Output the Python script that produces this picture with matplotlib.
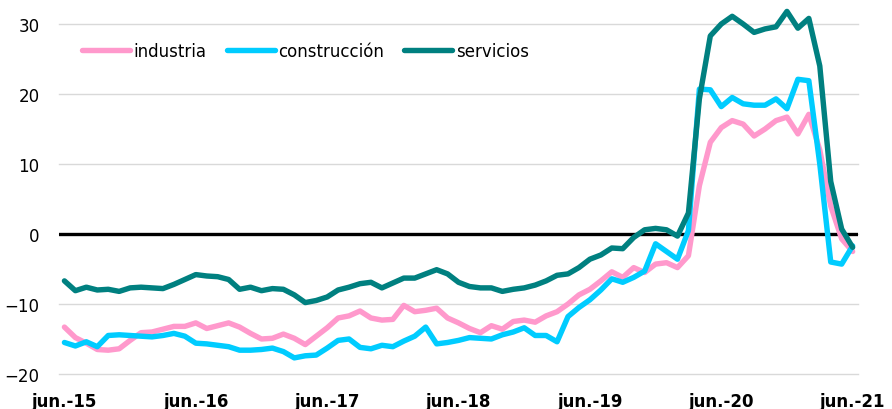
import matplotlib
matplotlib.use("Agg")
import matplotlib.pyplot as plt
import numpy as np

# monthly series, jun-15 .. jun-21
industria = [-13.3, -14.8, -15.6, -16.5, -16.6, -16.4, -15.2, -14.1, -14.0, -13.6, -13.2, -13.2,
             -12.7, -13.5, -13.1, -12.7, -13.3, -14.2, -15.0, -14.9, -14.3, -14.9, -15.8, -14.6,
             -13.4, -12.0, -11.7, -11.0, -12.0, -12.3, -12.2, -10.2, -11.1, -10.9, -10.6, -12.0,
             -12.7, -13.5, -14.1, -13.1, -13.6, -12.5, -12.3, -12.6, -11.7, -11.1, -10.0, -8.7,
             -7.9, -6.7, -5.4, -6.2, -4.8, -5.5, -4.3, -4.1, -4.8, -3.1, 6.9, 13.1,
             15.2, 16.2, 15.7, 14.0, 15.0, 16.2, 16.7, 14.3, 17.1, 12.0, 4.0, -0.7,
             -2.5]
construccion = [-15.5, -16.0, -15.4, -16.1, -14.5, -14.4, -14.5, -14.6, -14.7, -14.5, -14.2, -14.6,
                -15.6, -15.7, -15.9, -16.1, -16.6, -16.6, -16.5, -16.3, -16.8, -17.7, -17.4, -17.3,
                -16.3, -15.2, -15.0, -16.2, -16.4, -15.9, -16.1, -15.3, -14.6, -13.3, -15.7, -15.5,
                -15.2, -14.8, -14.9, -15.0, -14.4, -14.0, -13.4, -14.5, -14.5, -15.4, -11.8, -10.5,
                -9.4, -8.0, -6.4, -6.9, -6.2, -5.3, -1.4, -2.5, -3.6, 0.5, 20.7, 20.6,
                18.2, 19.5, 18.6, 18.4, 18.4, 19.3, 17.9, 22.1, 21.9, 10.0, -4.0, -4.3,
                -1.7]
servicios = [-6.7, -8.1, -7.6, -8.0, -7.9, -8.2, -7.7, -7.6, -7.7, -7.8, -7.2, -6.5,
             -5.8, -6.0, -6.1, -6.5, -7.9, -7.6, -8.1, -7.8, -7.9, -8.7, -9.8, -9.5,
             -9.0, -8.0, -7.6, -7.1, -6.9, -7.7, -7.0, -6.3, -6.3, -5.7, -5.1, -5.7,
             -6.9, -7.5, -7.7, -7.7, -8.2, -7.9, -7.7, -7.3, -6.7, -5.9, -5.7, -4.8,
             -3.6, -3.0, -2.0, -2.1, -0.5, 0.6, 0.8, 0.6, -0.3, 3.0, 19.3, 28.3,
             30.0, 31.1, 30.0, 28.8, 29.3, 29.6, 31.8, 29.4, 30.8, 24.0, 7.5, 0.7,
             -1.9]
tick_labels = ['jun.-15', 'jun.-16', 'jun.-17', 'jun.-18', 'jun.-19', 'jun.-20', 'jun.-21']

months = np.arange(len(servicios))

fig = plt.figure(figsize=(8.92, 4.10), dpi=100)
ax = fig.add_axes([0.0661, 0.0854, 0.8959, 0.8536])

line_kw = dict(lw=3.9, solid_capstyle='round', solid_joinstyle='round', clip_on=False)
ax.plot(months, industria, color='#FF99CC', label='industria', zorder=3, **line_kw)
ax.plot(months, construccion, color='#00CCFF', label='construcción', zorder=4, **line_kw)
ax.plot(months, servicios, color='#008080', label='servicios', zorder=5, **line_kw)
ax.axhline(0, color='black', lw=2.4, zorder=2)

ax.set_xlim(-0.5, len(months) - 0.5)
ax.set_ylim(-20, 30)
ax.set_yticks([-20, -10, 0, 10, 20, 30])
ax.set_xticks(months[::12])
ax.set_xticklabels(tick_labels, fontweight='bold')
ax.yaxis.grid(True, color='#D9D9D9', lw=1.0, zorder=0)
for gl in ax.get_ygridlines():
    gl.set_clip_on(False)
ax.set_axisbelow(True)
for s in ax.spines.values():
    s.set_visible(False)
ax.tick_params(axis='both', length=0, labelsize=12, colors='black')
ax.tick_params(axis='x', pad=13)
ax.tick_params(axis='y', pad=14)

ax.legend(loc='center left', bbox_to_anchor=(0.0204, 0.923), ncol=3, frameon=False,
          fontsize=12, handlelength=2.9, handletextpad=0.2, columnspacing=1.2,
          borderaxespad=0)

plt.savefig('out.png', dpi=100)
plt.close()
